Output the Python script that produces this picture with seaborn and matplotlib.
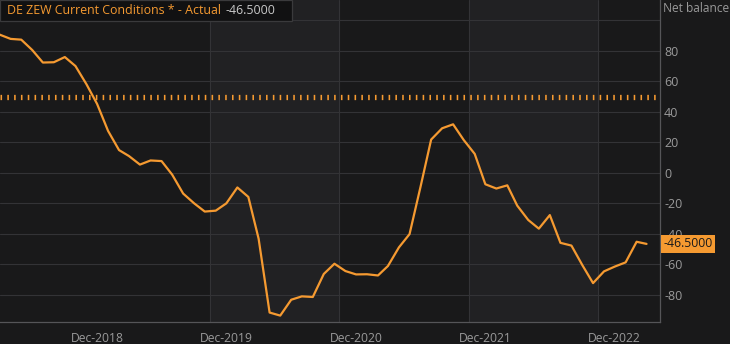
import matplotlib
matplotlib.use('Agg')
import matplotlib.pyplot as plt
from matplotlib.patches import Rectangle
import seaborn as sns
import pandas as pd

# ---------------- data ----------------
series_name = 'DE ZEW Current Conditions * - Actual'
axis_title = 'Net balance'
first_month = '2018-03-01'
last_month = '2023-03-01'
values = [
    90.7, 87.9, 87.4, 80.6, 72.4, 72.6, 76.0, 70.1, 58.2, 45.3,              # 2018
    27.6, 15.0, 11.1, 5.5, 8.2, 7.8, -1.1, -13.5, -19.9, -25.3, -24.7, -19.9,  # 2019
    -9.5, -15.7, -43.1, -91.5, -93.5, -83.1, -80.9, -81.3, -66.2, -59.5, -64.3, -66.5,  # 2020
    -66.4, -67.2, -61.0, -48.8, -40.1, -9.1, 21.9, 29.3, 31.9, 21.6, 12.5, -7.4,  # 2021
    -10.2, -8.1, -21.4, -30.8, -36.5, -27.6, -45.8, -47.6, -60.5, -72.2, -64.5, -61.4,  # 2022
    -58.6, -45.1, -46.5,                                                     # 2023
]
tick_dates = ['2018-12-01', '2019-12-01', '2020-12-01', '2021-12-01', '2022-12-01']
tick_labels = ['Dec-2018', 'Dec-2019', 'Dec-2020', 'Dec-2021', 'Dec-2022']
y_ticks = [-80, -60, -40, -20, 0, 20, 40, 60, 80]
grid_levels = [-80, -60, -40, -20, 0, 20, 40, 60, 80, 100]
band_ranges = [('2019-10-15', '2020-10-15'), ('2021-10-15', '2022-10-15')]
reference_level = 50

dates = pd.date_range(first_month, last_month, freq='MS')
df = pd.DataFrame({'date': dates, 'value': values})
last_value = values[-1]

# ---------------- style ----------------
BG = '#19191a'
BAND = '#212123'
GRID = '#333336'
TXT = '#9a9a9a'
ORANGE = '#f59a31'

sns.set_theme(style='dark')
plt.rcParams['font.family'] = ['Open Sans', 'DejaVu Sans']

W, H = 730, 344
fig = plt.figure(figsize=(W / 100, H / 100), dpi=100, facecolor=BG)
ax = fig.add_axes([0, 22 / H, 660 / W, 322 / H])
ax.set_facecolor(BG)

for a, b in band_ranges:
    ax.axvspan(pd.Timestamp(a), pd.Timestamp(b), color=BAND, lw=0, zorder=0)
    for d in (a, b):
        ax.axvline(pd.Timestamp(d), color=GRID, lw=0.8, zorder=0.5)

for g in grid_levels:
    ax.axhline(g, color=GRID, lw=0.8, zorder=0.5)

ax.axhline(reference_level, color=ORANGE, lw=3.8,
           linestyle=(0, (0.3, 0.99)), dash_capstyle='butt', zorder=1)

sns.lineplot(data=df, x='date', y='value', ax=ax, color=ORANGE, lw=1.6, zorder=3)

ax.set_xlim(pd.Timestamp('2018-03-02'), pd.Timestamp('2023-04-08'))
ax.set_ylim(-97.7, 113.4)
ax.grid(False)

ax.set_xticks([pd.Timestamp(d) for d in tick_dates])
ax.set_xticklabels(tick_labels)
ax.yaxis.tick_right()
ax.set_yticks(y_ticks)
ax.set_yticklabels([str(v) for v in y_ticks])
ax.tick_params(axis='x', colors=TXT, labelsize=8.7, length=4, width=0.8, pad=3, color='#555558')
ax.tick_params(axis='y', colors=TXT, labelsize=9, length=0, pad=3)
for lab in ax.get_yticklabels():
    lab.set_horizontalalignment('left')
ax.set_xlabel('')
ax.set_ylabel('')

for side in ['left', 'top']:
    ax.spines[side].set_visible(False)
for side in ['right', 'bottom']:
    ax.spines[side].set_visible(True)
    ax.spines[side].set_color('#555558')
    ax.spines[side].set_linewidth(0.9)

ax.text(1.0, 1.0 - 8 / 322, ' ' + axis_title, transform=ax.transAxes, ha='left', va='center',
        color=TXT, fontsize=8.6)

# last value label
ax.annotate(f'{last_value:.4f}', xy=(1.0, last_value), xycoords=('axes fraction', 'data'),
            xytext=(2.5, 0), textcoords='offset points', ha='left', va='center',
            color='#1a1a1a', fontsize=8.8,
            bbox=dict(boxstyle='square,pad=0.2', fc=ORANGE, ec='none'), zorder=5)

# title box
fig.patches.append(Rectangle((0, 1 - 21 / H), 292 / W, 21 / H, transform=fig.transFigure,
                             facecolor='#111112', edgecolor='#3a3a3c', lw=0.9, zorder=10))
t1 = fig.text(7 / W, 1 - 10.5 / H, series_name, color=ORANGE, fontsize=8.9,
              ha='left', va='center', zorder=11)
fig.canvas.draw()
bb = t1.get_window_extent()
fig.text((bb.x1 + 5) / W, 1 - 10.5 / H, f'{last_value:.4f}', color='#c8c8c8', fontsize=8.9,
         ha='left', va='center', zorder=11)

fig.savefig('out.png', dpi=100, facecolor=BG)
